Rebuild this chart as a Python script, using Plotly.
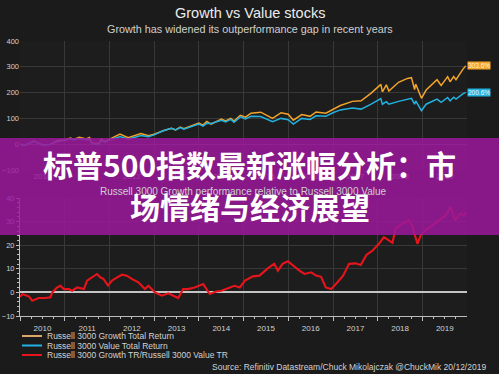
import plotly.graph_objects as go

# ---------------- data ----------------
top_dates = [
    "2009-12-31", "2010-02-08", "2010-04-23", "2010-07-02", "2010-08-31", "2010-11-05", "2010-12-31",
    "2011-02-18", "2011-03-16", "2011-04-29", "2011-06-24", "2011-07-22", "2011-08-10", "2011-10-03",
    "2011-10-27", "2011-11-25", "2011-12-30", "2012-03-27", "2012-06-01", "2012-09-14", "2012-11-15",
    "2012-12-31", "2013-03-15", "2013-05-21", "2013-06-24", "2013-08-02", "2013-08-30", "2013-12-31",
    "2014-02-03", "2014-03-06", "2014-04-11", "2014-07-03", "2014-08-07", "2014-09-18", "2014-10-15",
    "2014-12-05", "2015-01-16", "2015-03-02", "2015-05-21", "2015-08-25", "2015-11-03", "2015-12-31",
    "2016-02-11", "2016-04-20", "2016-06-27", "2016-08-15", "2016-11-03", "2016-12-30", "2017-03-01",
    "2017-06-08", "2017-08-18", "2017-11-08", "2018-01-26", "2018-02-08", "2018-03-12", "2018-04-02",
    "2018-06-20", "2018-08-31", "2018-10-03", "2018-10-29", "2018-11-07", "2018-12-24", "2019-01-31",
    "2019-04-30", "2019-06-03", "2019-07-26", "2019-08-15", "2019-09-13", "2019-10-02", "2019-11-27",
    "2019-12-20",
]
growth_tr = [
    0, -5, 12, -3, -1, 14, 17,
    24, 18, 27, 20, 26, 5, 2,
    20, 10, 19, 39, 25, 41, 33,
    39, 52, 62, 55, 66, 60, 82,
    74, 88, 78, 97, 90, 100, 90,
    112, 105, 120, 124, 100, 122, 116,
    93, 115, 108, 125, 120, 134, 150,
    166, 168, 198, 232, 203, 230, 206,
    240, 255, 258, 212, 233, 178, 210,
    250, 228, 262, 242, 262, 250, 290,
    303.6,
]
value_tr = [
    0, -4, 11, -2, -1, 10, 14,
    21, 16, 22, 17, 18, 2, -2,
    14, 7, 15, 30, 19, 34, 29,
    36, 52, 62, 55, 64, 58, 78,
    70, 81, 80, 93, 86, 96, 85,
    106, 98, 108, 107, 87, 100, 95,
    78, 100, 96, 110, 108, 122, 133,
    140, 136, 155, 177, 155, 165, 155,
    166, 175, 178, 155, 168, 130, 155,
    175, 162, 181, 168, 182, 175, 195,
    200.6,
]

ratio_dates = [
    "2009-12-31", "2010-01-20", "2010-02-15", "2010-03-15", "2010-04-10", "2010-05-08", "2010-06-03",
    "2010-07-27", "2010-09-06", "2010-09-20", "2010-10-31", "2010-11-27", "2010-12-24", "2011-02-03",
    "2011-03-02", "2011-04-12", "2011-06-06", "2011-07-02", "2011-08-11", "2011-09-21", "2011-10-18",
    "2011-11-14", "2011-12-20", "2012-01-22", "2012-03-04", "2012-04-13", "2012-05-22", "2012-07-01",
    "2012-08-24", "2012-10-17", "2012-11-14", "2013-01-07", "2013-03-03", "2013-04-26", "2013-06-06",
    "2013-07-16", "2013-08-25", "2013-10-04", "2013-11-27", "2014-02-05", "2014-03-30", "2014-05-22",
    "2014-07-04", "2014-08-25", "2014-10-18", "2014-12-01", "2015-01-12", "2015-03-18", "2015-05-10",
    "2015-07-20", "2015-09-08", "2015-10-08", "2015-11-15", "2015-12-28", "2016-02-06", "2016-04-01",
    "2016-05-12", "2016-07-06", "2016-08-15", "2016-09-25", "2016-11-02", "2016-12-16", "2017-02-06",
    "2017-03-24", "2017-05-12", "2017-07-04", "2017-08-15", "2017-09-30", "2017-11-18", "2018-01-10",
    "2018-02-20", "2018-04-06", "2018-05-01", "2018-05-26", "2018-07-20", "2018-09-12", "2018-10-08",
    "2018-11-21", "2018-12-17", "2019-01-26", "2019-03-22", "2019-05-16", "2019-07-09", "2019-08-19",
    "2019-09-26", "2019-11-07", "2019-12-05", "2019-12-20",
]
ratio_vals = [
    -1.8, -0.8, -1.2, -1.8, -3.5, -2.8, -2.4,
    -2.4, -2.1, 0.0, 2.1, 2.8, 1.4, 1.4,
    0.7, 2.1, 1.4, 5.0, 6.4, 7.8, 6.4,
    5.7, 2.9, 5.0, 6.4, 7.5, 7.1, 5.7,
    4.3, 1.4, 2.8, 0.0, -1.4, -0.4, -1.4,
    -2.4, 1.4, 1.4, 2.1, 3.5, -0.7, 0.4,
    0.7, 1.7, 2.8, 2.1, 5.0, 6.8, 7.1,
    10.3, 12.1, 9.2, 12.1, 13.2, 11.4, 9.2,
    7.8, 8.5, 7.1, 6.6, 2.1, 1.4, 4.3,
    7.1, 12.1, 12.3, 11.6, 15.9, 17.7, 20.6,
    23.4, 22.0, 21.0, 27.0, 29.1, 30.5, 28.4,
    20.6, 24.1, 26.3, 28.4, 30.5, 32.6, 36.2,
    30.5, 33.4, 32.6, 34.0,
]

series_names = [
    "Russell 3000 Growth Total Return",
    "Russell 3000 Value Total Return",
    "Russell 3000 Growth TR/Russell 3000 Value TR",
]
growth_end_label = "303.6%"
value_end_label = "200.6%"

title_text = "Growth vs Value stocks"
subtitle_text = "Growth has widened its outperformance gap in recent years"
subtitle2_text = "Russell 3000 Growth performance relative to Russell 3000 Value"
source_text = "Source: Refinitiv Datastream/Chuck Mikolajczak @ChuckMik 20/12/2019"
banner_line1 = "标普500指数最新涨幅分析：市"
banner_line2 = "场情绪与经济展望"

# ---------------- styling ----------------
W, H = 499, 374
ORANGE = "#f2a32a"
CYAN = "#22b2e0"
RED = "#e8141b"
LEGEND_COLORS = ["#d9a86a", CYAN, RED]
BG = "#1b1b1b"
GRID = "#383838"
TXT = "#d2d2d2"
FONT = "Arial, Liberation Sans, sans-serif"


def py(p):  # pixel y from top -> paper y
    return 1 - p / H


def px_(p):
    return p / W


fig = go.Figure()
fig.add_trace(go.Scatter(x=top_dates, y=growth_tr, mode="lines", name=series_names[0],
                         line=dict(color=ORANGE, width=1.5), xaxis="x", yaxis="y"))
fig.add_trace(go.Scatter(x=top_dates, y=value_tr, mode="lines", name=series_names[1],
                         line=dict(color=CYAN, width=1.5), xaxis="x", yaxis="y"))
fig.add_trace(go.Scatter(x=ratio_dates, y=ratio_vals, mode="lines", name=series_names[2],
                         line=dict(color=RED, width=2.1), xaxis="x2", yaxis="y2"))

xcommon = dict(type="date", range=["2009-12-31", "2019-12-31"], domain=[px_(20), px_(467)],
               dtick="M12", tick0="2010-01-01", ticklabelmode="period", tickformat="%Y",
               showgrid=True, gridcolor=GRID, gridwidth=1, zeroline=False, automargin=False,
               tickfont=dict(size=8, color=TXT, family=FONT))

fig.update_layout(
    width=W, height=H,
    margin=dict(l=0, r=0, t=0, b=0, autoexpand=False),
    paper_bgcolor=BG, plot_bgcolor="#1d1d1d",
    font=dict(family=FONT, color=TXT),
    showlegend=False,
    xaxis=dict(xcommon, anchor="y", ticks="", showline=False),
    yaxis=dict(domain=[py(170), py(41)], range=[-100, 400], dtick=100, anchor="x",
               showgrid=True, gridcolor=GRID, zeroline=True, zerolinecolor="#5a5a5a",
               zerolinewidth=1, tickfont=dict(size=7.5, color=TXT, family=FONT), ticks="",
               automargin=False),
    xaxis2=dict(xcommon, anchor="y2", showline=True, linecolor="#bdbdbd", linewidth=1,
                ticks="outside", ticklen=4, tickcolor="#bdbdbd",
                minor=dict(ticks="outside", ticklen=2, dtick="M3", tickcolor="#bdbdbd")),
    yaxis2=dict(domain=[py(316), py(198)], range=[-10, 40], dtick=10, anchor="x2",
                showgrid=True, gridcolor=GRID, zeroline=True, zerolinecolor="#c4c4c4",
                zerolinewidth=1.5, showline=True, linecolor="#bdbdbd", ticks="outside",
                ticklen=3, tickcolor="#bdbdbd", automargin=False,
                minor=dict(ticks="outside", ticklen=2, dtick=2, tickcolor="#bdbdbd"),
                tickfont=dict(size=7.5, color=TXT, family=FONT)),
)

annotations = [
    dict(text=title_text, x=0.5, y=py(13), xref="paper", yref="paper", showarrow=False,
         font=dict(size=14.5, color="#ececec", family=FONT), yanchor="middle"),
    dict(text=subtitle_text, x=0.5, y=py(29), xref="paper", yref="paper", showarrow=False,
         font=dict(size=10.8, color="#cfcfcf", family=FONT), yanchor="middle"),
    dict(text=subtitle2_text, x=px_(243), y=py(191), xref="paper", yref="paper",
         showarrow=False, font=dict(size=10, color="#cfcfcf", family=FONT), yanchor="middle"),
    dict(text=source_text, x=px_(488), y=py(367), xref="paper", yref="paper", showarrow=False,
         xanchor="right", yanchor="middle", font=dict(size=8.5, color=TXT, family=FONT)),
    dict(text=growth_end_label, x=px_(467), y=growth_tr[-1], xref="paper", yref="y",
         showarrow=False, xanchor="left", yanchor="middle", bgcolor=ORANGE,
         borderpad=0, font=dict(size=6.5, color="#fff2d8", family=FONT)),
    dict(text=value_end_label, x=px_(467), y=value_tr[-1], xref="paper", yref="y",
         showarrow=False, xanchor="left", yanchor="middle", bgcolor=CYAN,
         borderpad=0, font=dict(size=6.5, color="#ecfaff", family=FONT)),
]

# manual legend (compact, like the reference)
legend_rows = [336, 345.5, 355]
shapes = []
for name, col, yy in zip(series_names, LEGEND_COLORS, legend_rows):
    shapes.append(dict(type="line", xref="paper", yref="paper", x0=px_(22), x1=px_(42),
                       y0=py(yy), y1=py(yy), line=dict(color=col, width=2)))
    annotations.append(dict(text=name, x=px_(45), y=py(yy), xref="paper", yref="paper",
                            showarrow=False, xanchor="left", yanchor="middle",
                            font=dict(size=8.5, color=TXT, family=FONT)))

# banner overlay
shapes.append(dict(type="rect", xref="paper", yref="paper", x0=0, x1=1, y0=py(235), y1=py(138),
                   fillcolor="rgba(155,24,155,0.86)", line=dict(width=0), layer="above"))
for txt, yy in [(banner_line1, 164), (banner_line2, 206)]:
    annotations.append(dict(text="<b>" + txt + "</b>", x=0.5, y=py(yy), xref="paper",
                            yref="paper", showarrow=False, yanchor="middle",
                            font=dict(size=30, color="#ffffff", weight="bold",
                                      family="Noto Sans CJK SC")))

fig.update_layout(annotations=annotations, shapes=shapes)

fig.write_html("out.html", config={"displayModeBar": False},
               post_script="document.body.style.margin='0';"
               "document.documentElement.style.background='#1b1b1b';")
